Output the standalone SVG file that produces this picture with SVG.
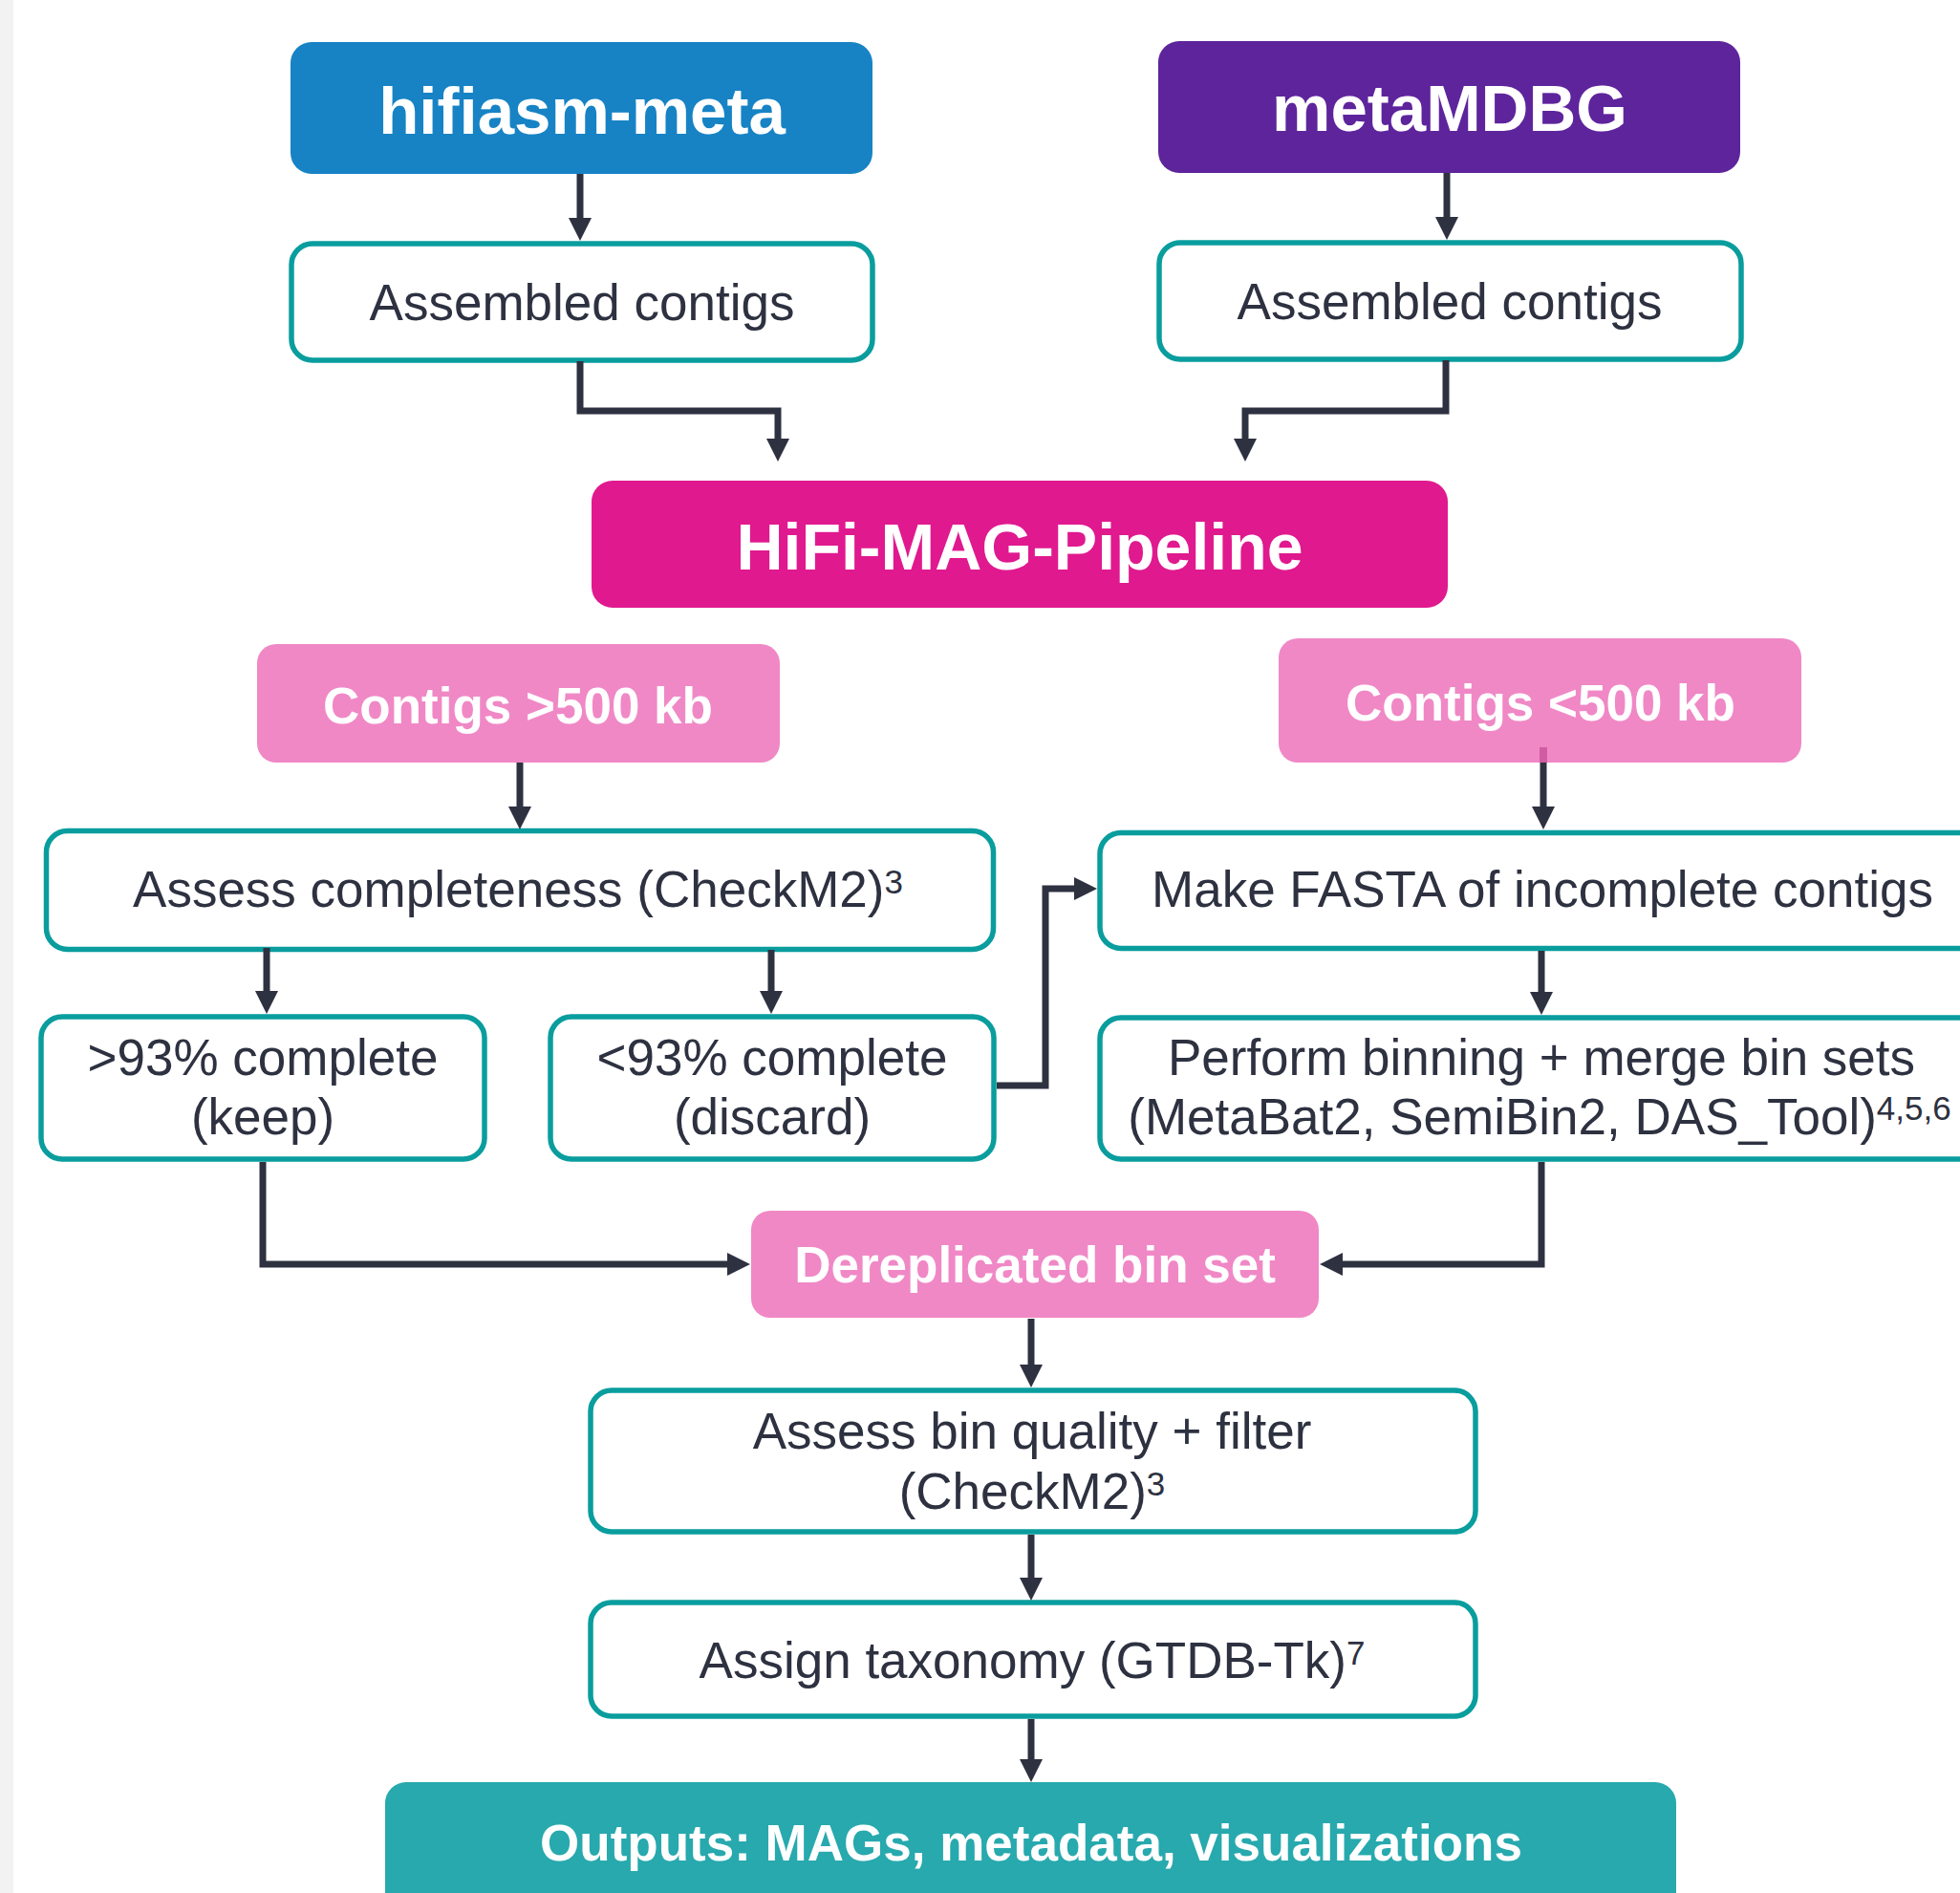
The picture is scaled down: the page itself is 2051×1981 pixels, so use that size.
<svg xmlns="http://www.w3.org/2000/svg" width="2051" height="1981" viewBox="0 0 2051 1981">
<defs>
<style>
.bold{font-family:"Liberation Sans",Arial,sans-serif;font-weight:bold;fill:#ffffff;text-anchor:middle}
.reg{font-family:"Liberation Sans",Arial,sans-serif;fill:#2d3140;text-anchor:middle;font-size:53px}
.box{fill:#ffffff;stroke:#0a9d9e;stroke-width:5.5}
.pink{fill:#f088c6}
.conn{fill:none;stroke:#2e3140;stroke-width:7;stroke-linejoin:miter;marker-end:url(#arr)}
.sup{font-size:35px}
</style>
<marker id="arr" viewBox="0 0 24 24" markerWidth="24" markerHeight="24" markerUnits="userSpaceOnUse" refX="4" refY="12" orient="auto">
<path d="M0,0 L24,12 L0,24 Z" fill="#2e3140"/>
</marker>
</defs>
<rect x="0" y="0" width="2051" height="1981" fill="#ffffff"/>
<rect x="0" y="0" width="14" height="1981" fill="#f2f2f2"/>

<g id="n-hifiasm">
<rect x="304" y="44" width="609" height="138" rx="22" fill="#1783c5"/>
<text class="bold" x="609" y="140" font-size="69">hifiasm-meta</text>
</g>
<g id="n-metamdbg">
<rect x="1212" y="43" width="609" height="138" rx="22" fill="#5e249c"/>
<text class="bold" x="1517" y="137" font-size="69">metaMDBG</text>
</g>
<g id="n-contigs1">
<rect class="box" x="305" y="255" width="608" height="122" rx="22"/>
<text class="reg" x="609" y="335">Assembled contigs</text>
</g>
<g id="n-contigs2">
<rect class="box" x="1213" y="254" width="609" height="122" rx="22"/>
<text class="reg" x="1517" y="334">Assembled contigs</text>
</g>
<g id="n-pipeline">
<rect x="619" y="503" width="896" height="133" rx="22" fill="#e0198f"/>
<text class="bold" x="1067" y="596" font-size="68">HiFi-MAG-Pipeline</text>
</g>
<g id="n-large">
<rect class="pink" x="269" y="674" width="547" height="124" rx="20"/>
<text class="bold" x="542" y="757" font-size="53">Contigs &gt;500 kb</text>
</g>
<g id="n-small">
<rect class="pink" x="1338" y="668" width="547" height="130" rx="20"/>
<text class="bold" x="1612" y="754" font-size="53">Contigs &lt;500 kb</text>
</g>
<g id="n-assess">
<rect class="box" x="48.5" y="869.5" width="991" height="124" rx="22"/>
<text class="reg" x="542" y="949">Assess completeness (CheckM2)<tspan class="sup" dy="-14">3</tspan></text>
</g>
<g id="n-keep">
<rect class="box" x="43" y="1064" width="464" height="149" rx="22"/>
<text class="reg" x="275" y="1125">&gt;93% complete</text>
<text class="reg" x="275" y="1187">(keep)</text>
</g>
<g id="n-discard">
<rect class="box" x="576" y="1064" width="464" height="149" rx="22"/>
<text class="reg" x="808" y="1125">&lt;93% complete</text>
<text class="reg" x="808" y="1187">(discard)</text>
</g>
<g id="n-fasta">
<rect class="box" x="1151" y="871.5" width="930" height="121" rx="22"/>
<text class="reg" x="1614" y="949">Make FASTA of incomplete contigs</text>
</g>
<g id="n-binning">
<rect class="box" x="1151" y="1065" width="930" height="148" rx="22"/>
<text class="reg" x="1613" y="1125">Perform binning + merge bin sets</text>
<text class="reg" x="1611" y="1187">(MetaBat2, SemiBin2, DAS_Tool)<tspan class="sup" dy="-15">4,5,6</tspan></text>
</g>
<g id="n-derep">
<rect class="pink" x="786" y="1267" width="594" height="112" rx="20"/>
<text class="bold" x="1083" y="1342" font-size="53">Dereplicated bin set</text>
</g>
<g id="n-quality">
<rect class="box" x="618" y="1455" width="926" height="148" rx="22"/>
<text class="reg" x="1080" y="1516">Assess bin quality + filter</text>
<text class="reg" x="1080" y="1579">(CheckM2)<tspan class="sup" dy="-14">3</tspan></text>
</g>
<g id="n-taxonomy">
<rect class="box" x="618" y="1677" width="926" height="119" rx="22"/>
<text class="reg" x="1080" y="1756">Assign taxonomy (GTDB-Tk)<tspan class="sup" dy="-14">7</tspan></text>
</g>
<g id="n-outputs">
<rect x="403" y="1865" width="1351" height="160" rx="22" fill="#27a9ae"/>
<text class="bold" x="1079" y="1947" font-size="53">Outputs: MAGs, metadata, visualizations</text>
</g>

<g id="connectors">
<path class="conn" d="M607,182 V232"/>
<path class="conn" d="M1514,181 V231"/>
<path class="conn" d="M607,378 V430 H814 V463"/>
<path class="conn" d="M1513,377 V430 H1303 V463"/>
<path class="conn" d="M544,798 V848"/>
<line x1="1615" y1="782" x2="1615" y2="798" stroke="#d05ca2" stroke-width="8"/>
<path class="conn" d="M1615,798 V848"/>
<path class="conn" d="M279,992 V1041"/>
<path class="conn" d="M807,994 V1041"/>
<path class="conn" d="M1043,1136 H1094 V930 H1128"/>
<path class="conn" d="M1613,995 V1042"/>
<path class="conn" d="M275,1216 V1323 H765"/>
<path class="conn" d="M1613,1216 V1323 H1401"/>
<path class="conn" d="M1079,1380 V1432"/>
<path class="conn" d="M1079,1606 V1655"/>
<path class="conn" d="M1079,1799 V1845"/>
</g>
</svg>
